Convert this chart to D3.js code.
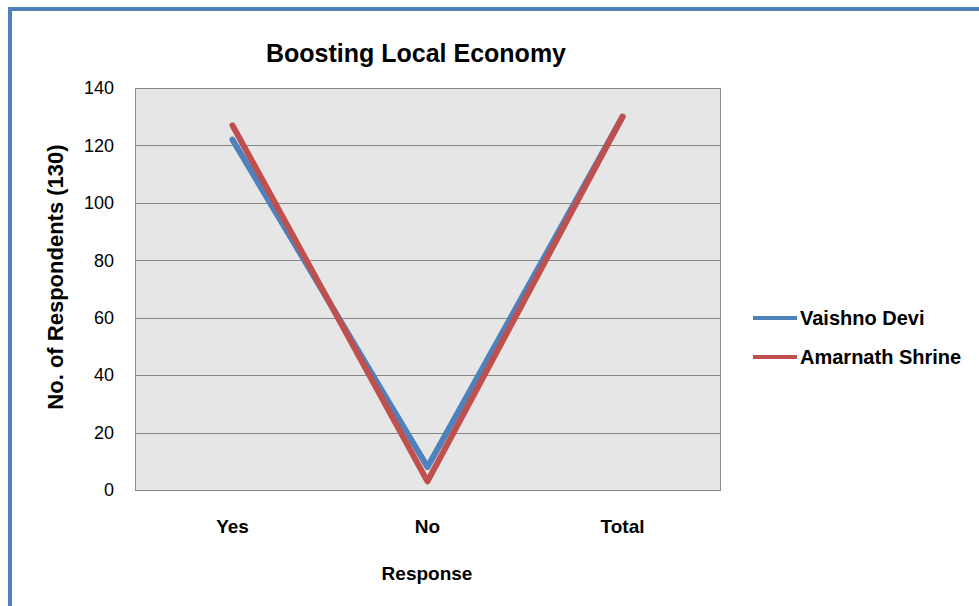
<!DOCTYPE html>
<html>
<head>
<meta charset="utf-8">
<script src="https://cdn.jsdelivr.net/npm/d3@7"></script>
<style>
  body { margin: 0; background: #fff; }
  text { font-family: "Liberation Sans", Arial, sans-serif; fill: #000; }
</style>
</head>
<body>
<div id="container"></div>
<script>
/* CONSTANTS AND GLOBALS */
const width = 979,
  height = 606,
  margin = { top: 88, bottom: 116, left: 135, right: 259 };

// DATA
const categories = ["Yes", "No", "Total"];
const seriesNames = ["Vaishno Devi", "Amarnath Shrine"];
const vaishnoDevi = [122, 8, 130];
const amarnathShrine = [127, 3, 130];
const yTicks = [0, 20, 40, 60, 80, 100, 120, 140];
const colors = ["#4f81bd", "#c0504d"];

const series = [
  { name: seriesNames[0], values: vaishnoDevi, color: colors[0] },
  { name: seriesNames[1], values: amarnathShrine, color: colors[1] }
];

// APPEND SVG
const svg = d3.select("#container")
  .append("svg")
  .attr("width", width)
  .attr("height", height);

// outer frame (runs off the right and bottom edges)
svg.append("rect")
  .attr("x", 10)
  .attr("y", 9)
  .attr("width", width + 20)
  .attr("height", height + 20)
  .attr("fill", "none")
  .attr("stroke", "#4f81bd")
  .attr("stroke-width", 4);

// SCALES
const x = d3.scaleBand()
  .domain(categories)
  .range([margin.left, width - margin.right]);

const y = d3.scaleLinear()
  .domain([0, 140])
  .range([height - margin.bottom, margin.top]);

// plot area
svg.append("rect")
  .attr("x", margin.left + 0.5)
  .attr("y", margin.top + 0.5)
  .attr("width", width - margin.left - margin.right)
  .attr("height", height - margin.top - margin.bottom)
  .attr("fill", "#e6e6e6")
  .attr("stroke", "#8c8c8c");

// gridlines
svg.selectAll("line.grid")
  .data(yTicks)
  .join("line")
  .attr("class", "grid")
  .attr("x1", margin.left)
  .attr("x2", width - margin.right)
  .attr("y1", d => Math.round(y(d)) + 0.5)
  .attr("y2", d => Math.round(y(d)) + 0.5)
  .attr("stroke", "#868686");

// Y AXIS
const yAxis = svg.append("g")
  .attr("transform", `translate(${margin.left},0)`)
  .call(d3.axisLeft(y).tickValues(yTicks).tickSize(0).tickPadding(21));
yAxis.select(".domain").remove();
yAxis.selectAll("text")
  .style("font-size", "18px")
  .style("font-family", "'Liberation Sans', Arial, sans-serif")
  .attr("fill", "#000");

// X AXIS
const xAxis = svg.append("g")
  .attr("transform", `translate(0,${height - margin.bottom})`)
  .call(d3.axisBottom(x).tickSize(0).tickPadding(30));
xAxis.select(".domain").remove();
xAxis.selectAll("text")
  .style("font-size", "19px")
  .style("font-weight", "bold")
  .style("font-family", "'Liberation Sans', Arial, sans-serif")
  .attr("fill", "#000");

// TITLES
svg.append("text")
  .attr("x", 416)
  .attr("y", 62)
  .attr("text-anchor", "middle")
  .style("font-size", "25px")
  .style("font-weight", "bold")
  .text("Boosting Local Economy");

svg.append("text")
  .attr("x", 427)
  .attr("y", 580)
  .attr("text-anchor", "middle")
  .style("font-size", "19px")
  .style("font-weight", "bold")
  .text("Response");

svg.append("text")
  .attr("transform", "translate(63,277) rotate(-90)")
  .attr("text-anchor", "middle")
  .style("font-size", "22px")
  .style("font-weight", "bold")
  .text("No. of Respondents (130)");

// LINES
const lineGen = d3.line()
  .x((d, i) => x(categories[i]) + x.bandwidth() / 2)
  .y(d => y(d));

svg.selectAll("path.series")
  .data(series)
  .join("path")
  .attr("class", "series")
  .attr("d", d => lineGen(d.values))
  .attr("fill", "none")
  .attr("stroke", d => d.color)
  .attr("stroke-width", 6)
  .attr("stroke-linecap", "round")
  .attr("stroke-linejoin", "round");

// LEGEND
const legend = svg.append("g")
  .attr("transform", "translate(753,318)");

const items = legend.selectAll("g")
  .data(series)
  .join("g")
  .attr("transform", (d, i) => `translate(0,${i * 39})`);

items.append("line")
  .attr("x1", 0)
  .attr("x2", 44)
  .attr("stroke", d => d.color)
  .attr("stroke-width", 4);

items.append("text")
  .attr("x", 47)
  .attr("y", 7)
  .style("font-size", "20px")
  .style("font-weight", "bold")
  .text(d => d.name);
</script>
</body>
</html>
